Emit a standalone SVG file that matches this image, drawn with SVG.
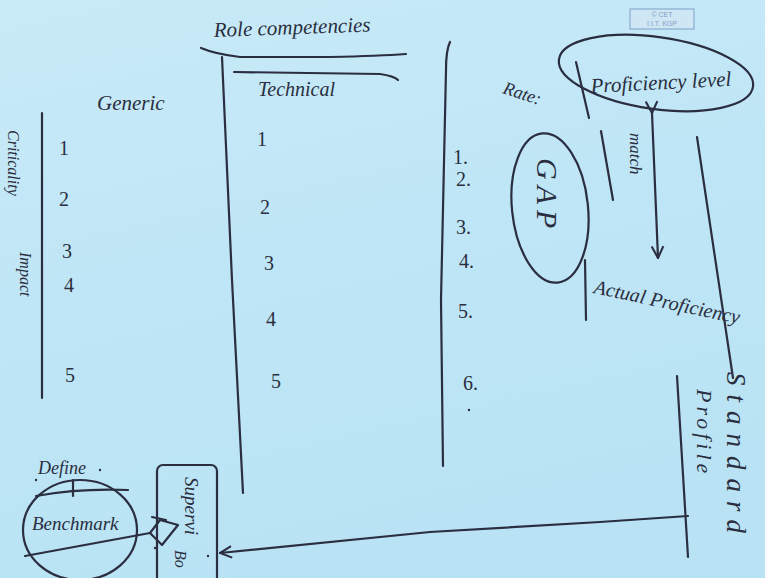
<svg xmlns="http://www.w3.org/2000/svg" width="765" height="578" viewBox="0 0 765 578">
<defs>
<linearGradient id="bg" x1="0" y1="0" x2="0.3" y2="1">
<stop offset="0" stop-color="#c9eaf7"/>
<stop offset="0.5" stop-color="#bfe6f6"/>
<stop offset="1" stop-color="#b9e3f4"/>
</linearGradient>
<marker id="arr" viewBox="0 0 12 12" refX="11" refY="6" markerWidth="14" markerHeight="14" markerUnits="userSpaceOnUse" orient="auto">
<path d="M1,1 L11,6 L1,11" fill="none" stroke="#2a2e40" stroke-width="1.8"/>
</marker>
</defs>
<style>
.ln{fill:none;stroke:#2a2e40;stroke-width:2.2;stroke-linecap:round;stroke-linejoin:round}
.t{font-family:"Liberation Serif",serif;font-style:italic;fill:#2a2e40}
.n{font-family:"Liberation Serif",serif;fill:#2a2e40;font-size:20px}
</style>
<rect width="765" height="578" fill="url(#bg)"/>

<!-- header -->
<g id="header">
<text class="t" x="214" y="37" font-size="21" transform="rotate(-2 214 37)">Role competencies</text>
<path class="ln" d="M201,48 Q215,54 240,57 L330,57 Q380,56 406,54"/>
<path class="ln" d="M234,72 L380,74 Q394,76 398,80"/>
</g>

<!-- column dividers -->
<g id="dividers">
<path class="ln" d="M222,57 L232,280 L243,493"/>
<path class="ln" d="M450,42 Q446,50 446,70 L441,300 L443,466"/>
<path class="ln" d="M42,113 L42,398"/>
</g>

<!-- generic column -->
<g id="generic">
<text class="t" x="97" y="110" font-size="21">Generic</text>
<text class="n" x="59" y="155">1</text>
<text class="n" x="59" y="206">2</text>
<text class="n" x="62" y="258">3</text>
<text class="n" x="64" y="292" font-size="17">4</text>
<text class="n" x="65" y="382">5</text>
<text class="t" font-size="16" transform="translate(8,130) rotate(90)">Criticality</text>
<text class="t" font-size="16" transform="translate(20,252) rotate(90)">Impact</text>
</g>

<!-- technical column -->
<g id="technical">
<text class="t" x="258" y="96" font-size="20">Technical</text>
<text class="n" x="257" y="146">1</text>
<text class="n" x="260" y="214">2</text>
<text class="n" x="264" y="270">3</text>
<text class="n" x="266" y="326" font-size="17">4</text>
<text class="n" x="271" y="388">5</text>
</g>

<!-- rating column -->
<g id="rating">
<text class="n" x="453" y="164" font-size="17">1.</text>
<text class="n" x="456" y="186" font-size="17">2.</text>
<text class="n" x="456" y="234" font-size="17">3.</text>
<text class="n" x="459" y="268" font-size="15">4.</text>
<text class="n" x="458" y="318" font-size="16">5.</text>
<text class="n" x="463" y="390" font-size="17">6.</text>
<circle cx="469" cy="410" r="1.2" fill="#2a2e40"/>
</g>

<!-- stamp -->
<g id="stamp">
<rect x="630" y="9" width="64" height="20" fill="#cfe6f4" stroke="#7f9fc6" stroke-width="1"/>
<text x="662" y="17" font-family="Liberation Sans,sans-serif" font-size="7" fill="#7f9fc6" text-anchor="middle">© CET</text>
<text x="662" y="26" font-family="Liberation Sans,sans-serif" font-size="7" fill="#7f9fc6" text-anchor="middle">I.I.T. KGP</text>
</g>

<!-- proficiency level -->
<g id="proficiency-level">
<text class="t" x="502" y="93" font-size="18" transform="rotate(18 502 93)">Rate:</text>
<path class="ln" d="M576,62 L589,118"/>
<ellipse class="ln" cx="656" cy="73" rx="98" ry="36" transform="rotate(8 656 73)"/>
<text class="t" x="591" y="93" font-size="21" transform="rotate(-3 591 93)">Proficiency level</text>
</g>

<!-- gap -->
<g id="gap">
<ellipse class="ln" cx="550" cy="208" rx="38" ry="75" transform="rotate(-6 550 208)"/>
<text class="t" font-size="30" letter-spacing="6" transform="translate(537,158) rotate(90)">GAP</text>
</g>

<!-- actual proficiency -->
<g id="actual-proficiency">
<path class="ln" d="M585,260 L586,320"/>
<text class="t" x="593" y="293" font-size="20" transform="rotate(12 593 293)">Actual Proficiency</text>
</g>

<!-- standard profile -->
<g id="standard-profile">
<text class="t" font-size="27" letter-spacing="9" transform="translate(727,372) rotate(90)">Standard</text>
<text class="t" font-size="22" letter-spacing="4" transform="translate(697,389) rotate(90)">Profile</text>
</g>

<!-- define / benchmark -->
<g id="benchmark">
<text class="t" x="38" y="474" font-size="18">Define</text>
<circle cx="36" cy="480" r="1.2" fill="#2a2e40"/>
<circle cx="100" cy="470" r="1.2" fill="#2a2e40"/>
<path class="ln" d="M73,480 L73,496"/>
<path class="ln" d="M36,496 Q80,488 128,490"/>
<ellipse class="ln" cx="80" cy="530" rx="57" ry="50"/>
<text class="t" x="32" y="530" font-size="19">Benchmark</text>
</g>

<!-- supervisor -->
<g id="supervisor">
<rect class="ln" x="157" y="465" width="60" height="120" rx="6"/>
<text class="t" font-size="19" transform="translate(185,477) rotate(90)">Supervi</text>
<text class="t" font-size="16" transform="translate(175,550) rotate(90)">Bo</text>
<circle cx="155" cy="548" r="1.2" fill="#2a2e40"/>
<circle cx="208" cy="556" r="1.2" fill="#2a2e40"/>
</g>

<!-- misc strokes -->
<g id="strokes">
<path class="ln" d="M601,131 L613,200"/>
<path class="ln" d="M697,137 L733,378"/>
<path class="ln" d="M677,376 L688,557"/>
</g>

<!-- connectors -->
<g id="connectors">
<path class="ln" d="M652,113 L658,258" marker-end="url(#arr)" marker-start="url(#arr)"/>
<text class="t" font-size="17" transform="translate(630,133) rotate(90)">match</text>
<path class="ln" d="M688,516 L600,522 L430,532 L220,553" marker-end="url(#arr)"/>
<path class="ln" d="M25,556 L150,533"/>
<path class="ln" d="M150,533 L160,520 L178,525 L162,545 Z"/>
<path class="ln" d="M152,517 L166,520"/>
</g>
</svg>
